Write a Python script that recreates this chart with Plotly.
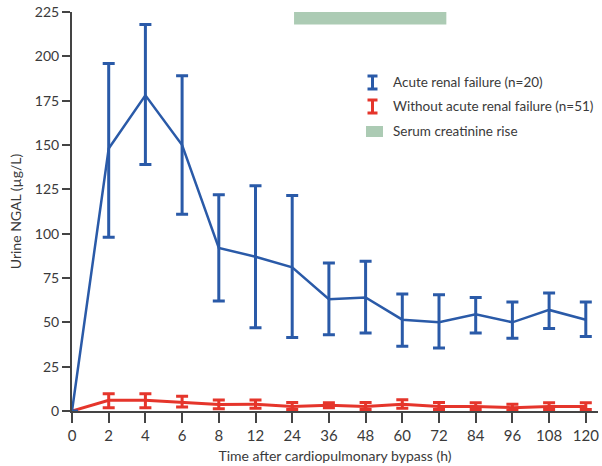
import plotly.graph_objects as go

# Sampling times after cardiopulmonary bypass (hours), shown on an evenly spaced axis
time_h = [0, 2, 4, 6, 8, 12, 24, 36, 48, 60, 72, 84, 96, 108, 120]

# Urine NGAL (µg/L): mean and error-bar limits
arf_mean = [0, 148, 178, 150, 92, 87, 81, 63, 64, 51.5, 50, 54.5, 50, 57, 51.5]
arf_upper = [0, 196, 218, 189, 122, 127, 121.5, 83.5, 84.5, 66, 65.5, 64, 61.5, 66.5, 61.5]
arf_lower = [0, 98, 139, 111, 62, 47, 41.5, 43, 44, 36.5, 35.5, 44, 41, 46.5, 42]

no_arf_mean = [0, 6, 6, 5, 3.6, 3.8, 2.6, 3.2, 2.6, 3.8, 2.6, 2.6, 1.9, 2.6, 2.6]
no_arf_upper = [0, 9.7, 9.7, 8.3, 6.2, 6.2, 4.8, 4.6, 4.8, 6.4, 4.8, 4.6, 3.8, 4.6, 4.6]
no_arf_lower = [0, 1.9, 1.9, 2.3, 1.3, 1.5, 0.9, 1.9, 0.9, 1.5, 0.9, 0.9, 0.3, 0.9, 0.9]

y_ticks = [0, 25, 50, 75, 100, 125, 150, 175, 200, 225]

legend_labels = [
    "Acute renal failure (n=20)",
    "Without acute renal failure (n=51)",
    "Serum creatinine rise",
]

BLUE = "#2a5aa8"
RED = "#e5352b"
GREEN = "#accbb4"
INK = "#3a3a3a"
AXIS = "#444444"
FONT = "Lato, Roboto, sans-serif"

pos = list(range(len(time_h)))


def err(mean, upper, lower):
    plus = [u - m for u, m in zip(upper, mean)]
    minus = [m - l for m, l in zip(mean, lower)]
    return plus, minus


fig = go.Figure()

for mean, upper, lower, color, lw in [
    (no_arf_mean, no_arf_upper, no_arf_lower, RED, 3),
    (arf_mean, arf_upper, arf_lower, BLUE, 2.5),
]:
    plus, minus = err(mean, upper, lower)
    fig.add_trace(go.Scatter(
        x=pos, y=mean, mode="lines",
        line=dict(color=color, width=lw),
        error_y=dict(type="data", symmetric=False, array=plus, arrayminus=minus,
                     color=color, thickness=3, width=6),
        cliponaxis=False, showlegend=False, hoverinfo="skip",
    ))

# Serum creatinine rise window (24 h to just past 72 h), drawn along the top of the plot
fig.add_shape(type="rect", xref="x", yref="y",
              x0=6.05, x1=10.2, y0=218, y1=225,
              fillcolor=GREEN, line=dict(width=0), layer="above")

# Plot-area pixel helpers for the hand-drawn legend
L, R, T, B = 72, 598, 12, 411


def px(xp):
    return (xp - L) / (R - L)


def py(yp):
    return (B - yp) / (B - T)


def i_icon(xc, y0, y1, color):
    fig.add_shape(type="line", xref="paper", yref="paper",
                  x0=px(xc), x1=px(xc), y0=py(y0), y1=py(y1),
                  line=dict(color=color, width=3))
    for yy in (y0, y1):
        fig.add_shape(type="line", xref="paper", yref="paper",
                      x0=px(xc - 5), x1=px(xc + 5), y0=py(yy), y1=py(yy),
                      line=dict(color=color, width=3))


i_icon(372.5, 76, 89, BLUE)
i_icon(372.5, 100, 113, RED)
fig.add_shape(type="rect", xref="paper", yref="paper",
              x0=px(366), x1=px(383), y0=py(137), y1=py(126),
              fillcolor=GREEN, line=dict(width=0))

for label, yc in zip(legend_labels, [82.5, 106.5, 131]):
    fig.add_annotation(xref="paper", yref="paper", x=px(391), y=py(yc),
                       text=label, showarrow=False, xanchor="left", yanchor="middle",
                       font=dict(family=FONT, size=13.5, color=INK))

fig.update_layout(
    width=602, height=466, autosize=False,
    margin=dict(l=L, r=602 - R, t=T, b=466 - B),
    paper_bgcolor="white", plot_bgcolor="white",
    font=dict(family=FONT, size=14, color=INK),
    showlegend=False,
)

fig.update_xaxes(
    range=[0, (R - L) / 36.7],
    tickmode="array", tickvals=pos, ticktext=[str(t) for t in time_h],
    showgrid=False, zeroline=False,
    showline=True, linecolor=AXIS, linewidth=2,
    ticks="outside", ticklen=10, tickwidth=2, tickcolor=AXIS,
    tickfont=dict(family=FONT, size=15, color=INK),
    title=dict(text="Time after cardiopulmonary bypass (h)",
               font=dict(family=FONT, size=14, color=INK), standoff=8),
)

fig.update_yaxes(
    range=[0, 225],
    tickmode="array", tickvals=y_ticks,
    showgrid=False, zeroline=False,
    showline=True, linecolor=AXIS, linewidth=2,
    ticks="outside", ticklen=8, tickwidth=2, tickcolor=AXIS,
    tickfont=dict(family=FONT, size=14, color=INK),
    title=dict(text="Urine NGAL (µg/L)",
               font=dict(family=FONT, size=14, color=INK), standoff=10),
)

fig.write_html("out.html")
